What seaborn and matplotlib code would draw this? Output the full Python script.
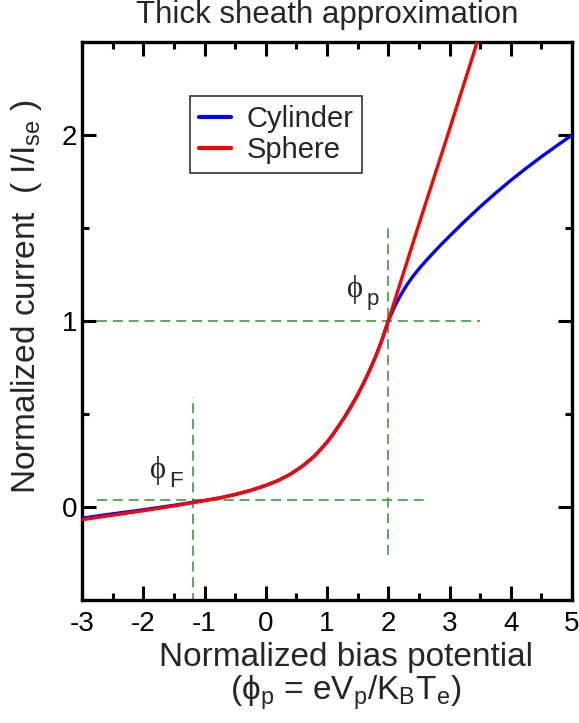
import numpy as np
import pandas as pd
import matplotlib
matplotlib.use("Agg")
import matplotlib.pyplot as plt
from matplotlib.ticker import MultipleLocator
import seaborn as sns

# ---- data ----
x_low = [-3.0, -2.5, -2.0, -1.5, -1.0, -0.75, -0.5, -0.25, 0.0, 0.2, 0.4, 0.6, 0.8,
         1.0, 1.1, 1.2, 1.3, 1.4, 1.5, 1.6, 1.7, 1.8, 1.9, 2.0]
sphere_low = [-0.068, -0.044, -0.020, 0.006, 0.034, 0.049, 0.067, 0.089, 0.116,
              0.142, 0.176, 0.220, 0.275, 0.348, 0.392, 0.440, 0.490, 0.545, 0.603,
              0.668, 0.738, 0.814, 0.900, 1.0]
cyl_low = [-0.060, -0.037, -0.015, 0.009, 0.035, 0.049, 0.067, 0.089, 0.116,
           0.142, 0.176, 0.220, 0.275, 0.348, 0.392, 0.440, 0.490, 0.545, 0.603,
           0.668, 0.738, 0.814, 0.900, 1.0]
x_high_sph = [2.5, 3.0, 3.5]
sphere_high = [1.52, 2.03, 2.55]
x_high_cyl = [2.1, 2.2, 2.3, 2.4, 2.5, 2.6, 2.7, 2.8, 2.9, 3.0, 3.25, 3.5, 3.75,
              4.0, 4.25, 4.5, 4.75, 5.0]
cyl_high = [1.075, 1.138, 1.192, 1.239, 1.280, 1.318, 1.354, 1.389, 1.423, 1.456,
            1.537, 1.614, 1.687, 1.756, 1.821, 1.883, 1.942, 2.0]

phi_p = 2.0
phi_f = -1.18
i_f = 0.035

x_ticks = [-3, -2, -1, 0, 1, 2, 3, 4, 5]
y_ticks = [0, 1, 2]

df = pd.concat([
    pd.DataFrame({"phi": x_low + x_high_cyl, "I": cyl_low + cyl_high, "Probe": "Cylinder"}),
    pd.DataFrame({"phi": x_low + x_high_sph, "I": sphere_low + sphere_high, "Probe": "Sphere"}),
], ignore_index=True)

sns.set_style("ticks")
plt.rcParams["font.family"] = ["Liberation Sans", "DejaVu Sans"]
plt.rcParams["mathtext.fontset"] = "custom"
plt.rcParams["mathtext.rm"] = "Liberation Sans"
plt.rcParams["mathtext.sf"] = "Liberation Sans"
plt.rcParams["mathtext.it"] = "Liberation Sans:italic"
plt.rcParams["axes.unicode_minus"] = False

fig = plt.figure(figsize=(5.79, 7.23), dpi=100)
ax = fig.add_axes([82 / 579, 1 - 600 / 723, 490 / 579, 558 / 723])

green = "#3c9c3c"
dash = dict(color=green, lw=1.2, dashes=(6, 3.5), zorder=1)
ax.plot([-2.75, 3.5], [1, 1], **dash)
ax.plot([phi_p, phi_p], [-0.26, 1.5], **dash)
ax.plot([phi_f, phi_f], [-0.6, 0.59], **dash)
ax.plot([-2.75, 2.65], [i_f, i_f], **dash)

sns.lineplot(data=df, x="phi", y="I", hue="Probe", sort=False,
             palette={"Cylinder": "#0000ff", "Sphere": "#ff0000"},
             linewidth=2.4, ax=ax, zorder=3)

ax.set_xlim(-3, 5)
ax.set_ylim(-0.5, 2.5)
ax.set_xticks(x_ticks)
ax.set_yticks(y_ticks)
ax.xaxis.set_minor_locator(MultipleLocator(0.5))
ax.yaxis.set_minor_locator(MultipleLocator(0.5))
ax.tick_params(which="both", direction="in", top=True, right=True, width=2.2,
               labelsize=20, colors="black")
ax.tick_params(which="major", length=10)
ax.tick_params(which="minor", length=5)
ax.tick_params(axis="x", pad=8)
for s in ax.spines.values():
    s.set_linewidth(2.4)
    s.set_color("black")

ax.set_xlabel("Normalized bias potential\n"
              r"(ϕ$_\mathrm{p}$ = eV$_\mathrm{p}$/K$_\mathrm{B}$T$_\mathrm{e}$)",
              fontsize=24, linespacing=1.0)
ax.xaxis.set_label_coords((346 - 82) / 490, -0.076)
ax.set_ylabel(r"Normalized current  ( I/I$_\mathrm{se}$ )", fontsize=24)
ax.yaxis.set_label_coords(-(82 - 44) / 490, 0.543)
ax.set_title("Thick sheath approximation", fontsize=22.5, pad=14)

serif = ["Liberation Serif", "DejaVu Serif"]
for (tx, ty, sub) in [(1.33, 1.13, "p"), (-1.89, 0.155, "F")]:
    ax.text(tx, ty, "ϕ", fontsize=22, ha="left", va="baseline", family=serif)
    ax.annotate(sub, xy=(tx, ty), xytext=(14, -6), textcoords="offset points",
                fontsize=16, ha="left", va="baseline")

leg = ax.legend(loc="upper left", bbox_to_anchor=(0.22, 0.903), borderaxespad=0,
                fontsize=21, frameon=True, fancybox=False, edgecolor="black",
                handlelength=1.1, handletextpad=0.55, borderpad=0.3, labelspacing=0.1)
leg.get_frame().set_linewidth(1.2)
for h in leg.get_lines():
    h.set_linewidth(3)

fig.savefig("out.png", dpi=100)
